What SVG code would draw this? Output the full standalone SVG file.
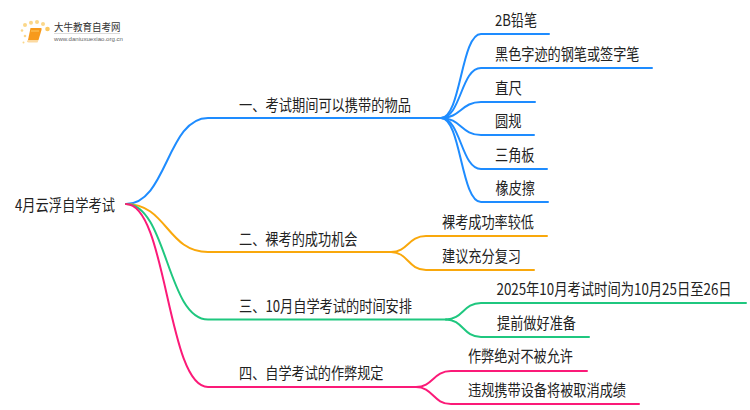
<svg xmlns="http://www.w3.org/2000/svg" width="750" height="410" viewBox="0 0 750 410">
<style>
text{font-family:"Noto Sans CJK SC","Noto Sans",sans-serif;font-size:15.5px;fill:#222}
.c{fill:none;stroke-width:2;stroke-linecap:round}
.b{stroke:#1e8cff}.o{stroke:#f9a80c}.g{stroke:#1fc77f}.p{stroke:#fb1a78}
</style>
<rect width="750" height="410" fill="#fff"/>
<g id="logo">
<g fill="#fbd78a"><circle cx="25" cy="25" r="2"/><circle cx="31" cy="22.700" r="2"/><circle cx="37" cy="22" r="2"/><circle cx="43" cy="24" r="2"/><circle cx="47.500" cy="29" r="2.300" fill="#fbc860"/><circle cx="22" cy="30.500" r="1.300"/><circle cx="25" cy="36" r="1.300"/><circle cx="23.500" cy="42.500" r="1"/></g>
<path d="M30.500 28H41Q42 28 41.500 30L38.500 40H28Z" fill="#f79a1c"/><path d="M28 40H38.500L37.500 42.500H28.500Q26.500 42 27 41Z" fill="#fcd9a0"/><path d="M31 31L39 31" stroke="#fbc860" stroke-width="1"/>
<text x="54" y="31" textLength="66.500" lengthAdjust="spacingAndGlyphs" style="font-size:10.500px;fill:#333">大牛教育自考网</text>
<rect x="54" y="33" width="66" height="0.700" fill="#ccc"/>
<text x="54" y="40.500" textLength="69" lengthAdjust="spacingAndGlyphs" style="font-size:6px;fill:#666;font-family:'Liberation Sans',sans-serif">www.daniuxuexiao.org.cn</text>
</g>
<g id="connectors">
<path class="c b" d="M126 204C167 204 167 118 208 118H441"/>
<path class="c o" d="M126 204C167 204 167 252 208 252H391"/>
<path class="c g" d="M126 204C167 204 167 319.500 208 319.500H446"/>
<path class="c p" d="M126 204C167 204 167 387 208 387H416"/>
<path class="c b" d="M441 118C461 118 461 34 481 34H549"/>
<path class="c b" d="M441 118C461 118 461 68 481 68H652"/>
<path class="c b" d="M441 118C461 118 461 102 481 102H535"/>
<path class="c b" d="M441 118C461 118 461 135 481 135H534"/>
<path class="c b" d="M441 118C461 118 461 169 481 169H547"/>
<path class="c b" d="M441 118C461 118 461 202 481 202H548"/>
<path class="c o" d="M391 252C408 252 408 236 426 236H547"/>
<path class="c o" d="M391 252C408 252 408 270 426 270H534"/>
<path class="c g" d="M446 319.500C463 319.500 463 303 481 303H746"/>
<path class="c g" d="M446 319.500C463 319.500 463 337 481 337H589"/>
<path class="c p" d="M416 387C433 387 433 371 451 371H587"/>
<path class="c p" d="M416 387C433 387 433 404 451 404H639"/>
</g>
<g id="root"><text x="15" y="211" textLength="100" lengthAdjust="spacingAndGlyphs">4月云浮自学考试</text></g>
<g id="n1"><text x="239" y="111" textLength="172" lengthAdjust="spacingAndGlyphs">一、考试期间可以携带的物品</text></g>
<g id="n2"><text x="239" y="245" textLength="118.500" lengthAdjust="spacingAndGlyphs">二、裸考的成功机会</text></g>
<g id="n3"><text x="239" y="312" textLength="173" lengthAdjust="spacingAndGlyphs">三、10月自学考试的时间安排</text></g>
<g id="n4"><text x="239" y="379" textLength="144.500" lengthAdjust="spacingAndGlyphs">四、自学考试的作弊规定</text></g>
<g id="l1"><text x="495" y="26" textLength="42" lengthAdjust="spacingAndGlyphs">2B铅笔</text></g>
<g id="l2"><text x="495" y="60" textLength="144.500" lengthAdjust="spacingAndGlyphs">黑色字迹的钢笔或签字笔</text></g>
<g id="l3"><text x="495" y="94" textLength="27" lengthAdjust="spacingAndGlyphs">直尺</text></g>
<g id="l4"><text x="495" y="127" textLength="26.500" lengthAdjust="spacingAndGlyphs">圆规</text></g>
<g id="l5"><text x="495" y="161" textLength="39.500" lengthAdjust="spacingAndGlyphs">三角板</text></g>
<g id="l6"><text x="495.500" y="194" textLength="39.500" lengthAdjust="spacingAndGlyphs">橡皮擦</text></g>
<g id="l7"><text x="442" y="228" textLength="92" lengthAdjust="spacingAndGlyphs">裸考成功率较低</text></g>
<g id="l8"><text x="442" y="262" textLength="79" lengthAdjust="spacingAndGlyphs">建议充分复习</text></g>
<g id="l9"><text transform="translate(496.500 295) scale(.86 1)">2025年10月考试时间为10月25日至26日</text></g>
<g id="l10"><text x="497" y="329" textLength="79" lengthAdjust="spacingAndGlyphs">提前做好准备</text></g>
<g id="l11"><text x="468" y="362" textLength="105" lengthAdjust="spacingAndGlyphs">作弊绝对不被允许</text></g>
<g id="l12"><text x="468" y="396" textLength="158" lengthAdjust="spacingAndGlyphs">违规携带设备将被取消成绩</text></g>
</svg>
